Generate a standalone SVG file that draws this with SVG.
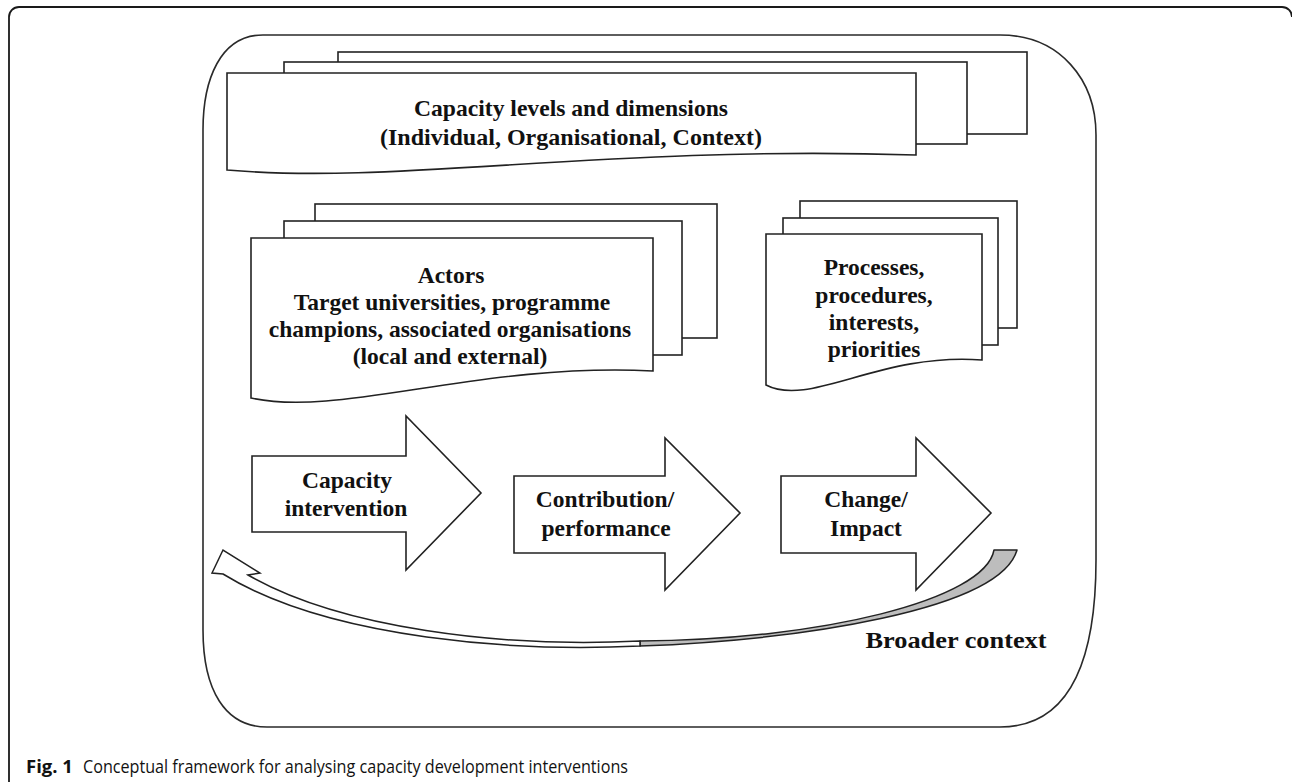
<svg xmlns="http://www.w3.org/2000/svg" width="1292" height="782" viewBox="0 0 1292 782">
  <style>
    .frame { fill: none; stroke: #1a1a1a; stroke-width: 1.8; }
    .ctx { fill: #fff; stroke: #2a2a2a; stroke-width: 1.6; }
    .shape { fill: #fff; stroke: #222; stroke-width: 1.6; stroke-linejoin: miter; }
    .t { font-family: "Liberation Serif", "Times New Roman", serif; font-weight: bold; font-size: 23.5px; fill: #111; text-anchor: middle; }
    .cap { font-family: "Open Sans", "Noto Sans", sans-serif; font-size: 18.5px; fill: #111; }
  </style>
  <rect x="0" y="0" width="1292" height="782" fill="#fff"/>
  <!-- figure frame -->
  <path class="frame" d="M9,782 V17 A10,10 0 0 1 19,7 H1282 A10,10 0 0 1 1292,17"/>

  <!-- broader context rounded frame -->
  <g id="context-frame">
    <path class="ctx" d="M263,35 H1000 C1060,35 1096,80 1096,135 V560 C1096,660 1070,727 1000,727 H267 C225,727 203,690 203,630 V130 C203,80 220,35 263,35 Z"/>
    <text class="t" x="956" y="648" textLength="181" lengthAdjust="spacingAndGlyphs">Broader context</text>
  </g>

  <!-- capacity levels stack -->
  <g id="node-capacity-levels">
    <rect class="shape" x="338" y="52" width="689" height="82"/>
    <rect class="shape" x="284" y="62" width="683" height="82"/>
    <path class="shape" d="M227,73 H916 V155 C600,145 400,185 227,170 Z"/>
    <text class="t" x="571" y="116" textLength="314" lengthAdjust="spacingAndGlyphs">Capacity levels and dimensions</text>
    <text class="t" x="571" y="145" textLength="382" lengthAdjust="spacingAndGlyphs">(Individual, Organisational, Context)</text>
  </g>

  <!-- actors stack -->
  <g id="node-actors">
    <rect class="shape" x="315" y="204" width="402" height="134"/>
    <rect class="shape" x="284" y="221" width="398" height="134"/>
    <path class="shape" d="M251,238 H653 V371 C480,362 340,418 251,398 Z"/>
    <text class="t" x="451" y="283">Actors</text>
    <text class="t" x="452" y="310">Target universities, programme</text>
    <text class="t" x="450" y="337">champions, associated organisations</text>
    <text class="t" x="450" y="364">(local and external)</text>
  </g>

  <!-- processes stack -->
  <g id="node-processes">
    <rect class="shape" x="800" y="201" width="217" height="127"/>
    <rect class="shape" x="783" y="218" width="215" height="127"/>
    <path class="shape" d="M766,234 H982 V360 C880,352 810,408 766,385 Z"/>
    <text class="t" x="874" y="275">Processes,</text>
    <text class="t" x="874" y="303">procedures,</text>
    <text class="t" x="874" y="330">interests,</text>
    <text class="t" x="874" y="357">priorities</text>
  </g>

  <!-- block arrows -->
  <g id="node-capacity-intervention">
    <path class="shape" d="M252,456 H406 V416 L481,493 L406,570 V532 H252 Z"/>
    <text class="t" x="347" y="488">Capacity</text>
    <text class="t" x="346" y="516">intervention</text>
  </g>
  <g id="node-contribution">
    <path class="shape" d="M514,476 H665 V438 L740,513 L665,590 V553 H514 Z"/>
    <text class="t" x="605" y="507">Contribution/</text>
    <text class="t" x="606" y="536">performance</text>
  </g>
  <g id="node-change">
    <path class="shape" d="M781,476 H916 V438 L991,513 L916,590 V553 H781 Z"/>
    <text class="t" x="866" y="507">Change/</text>
    <text class="t" x="866" y="536">Impact</text>
  </g>

  <!-- feedback curved arrow -->
  <g id="connectors">
    <path d="M640,646 C800,640 1000,610 1017,550 L994,550 C985,600 820,640 640,641 Z" fill="#bdbdbd" stroke="#222" stroke-width="1.5" stroke-linejoin="round"/>
    <path d="M640,641 C500,648 340,628 248,575 L260,573 L223,550 L212,573 L223,574 C330,640 520,652 640,646 Z" fill="#fff" stroke="#222" stroke-width="1.5" stroke-linejoin="miter"/>
  </g>

  <!-- caption -->
  <text class="cap" x="26" y="773"><tspan font-weight="bold">Fig. 1</tspan><tspan x="83" textLength="545" lengthAdjust="spacingAndGlyphs">Conceptual framework for analysing capacity development interventions</tspan></text>
</svg>
